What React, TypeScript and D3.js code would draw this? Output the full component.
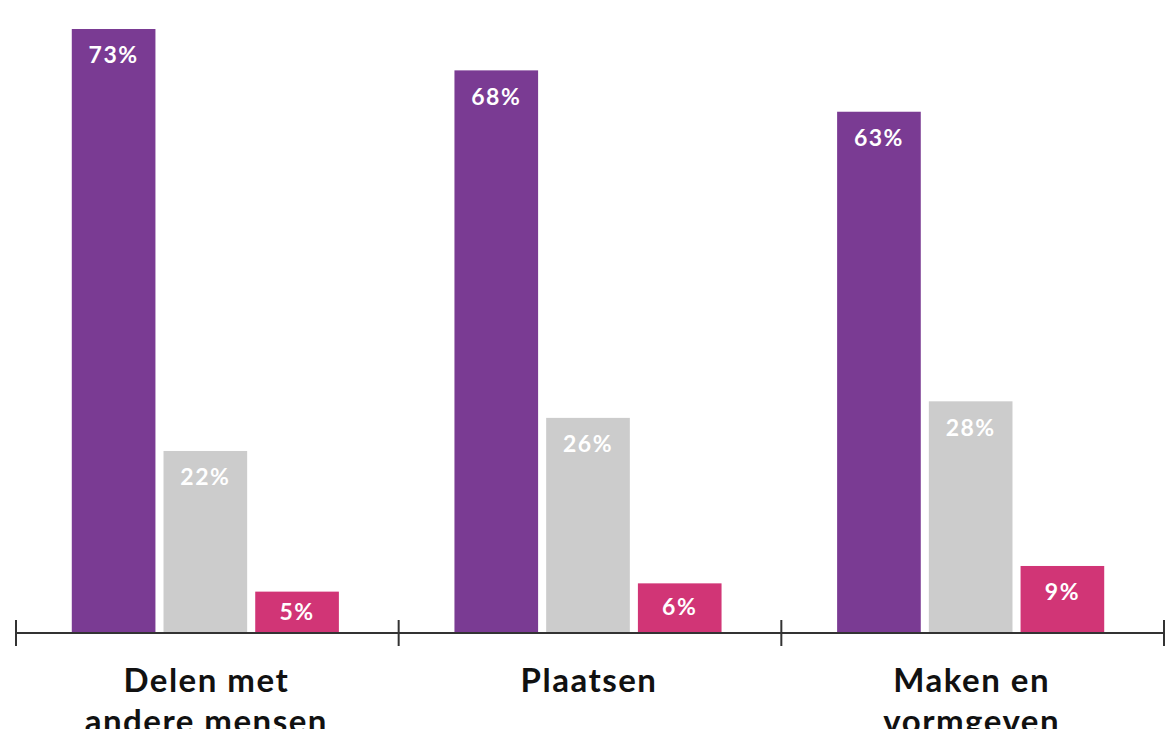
import React, { useEffect, useRef } from 'react';
import * as d3 from 'd3';

const categories = ['Delen met andere mensen', 'Plaatsen', 'Maken en vormgeven'];
const categoryLines = [['Delen met', 'andere mensen'], ['Plaatsen'], ['Maken en', 'vormgeven']];
const seriesKeys = ['a', 'b', 'c'];
// bar heights as drawn in the picture
const seriesA = [73, 68, 63];
const seriesB = [22, 26, 28];
const seriesC = [5, 6, 8.1];
// printed labels
const labelsA = ['73%', '68%', '63%'];
const labelsB = ['22%', '26%', '28%'];
const labelsC = ['5%', '6%', '9%'];
const colors = ['#7a3b93', '#cccccc', '#d13576'];

const W = 1166;
const H = 729;

export default function App() {
  const svgRef = useRef<SVGSVGElement>(null);

  useEffect(() => {
    if (!svgRef.current) return;
    const svg = d3.select(svgRef.current);
    svg.selectAll('*').remove();

    const margin = { left: 16, right: 2, bottom: 96, top: 29 };
    const baseY = H - margin.bottom;

    const x0 = d3.scaleBand<string>()
      .domain(categories)
      .range([margin.left, W - margin.right])
      .padding(0);

    const x1 = d3.scaleBand<string>()
      .domain(seriesKeys)
      .range([0, x0.bandwidth()])
      .paddingInner(0.088)
      .paddingOuter(0.63);

    const y = d3.scaleLinear().domain([0, 73]).range([baseY, margin.top]);

    const rows = categories.map((c, i) => ({
      cat: c,
      vals: [seriesA[i], seriesB[i], seriesC[i]],
      labs: [labelsA[i], labelsB[i], labelsC[i]],
    }));

    const groups = svg.selectAll('.grp')
      .data(rows)
      .enter().append('g')
      .attr('class', 'grp')
      .attr('transform', d => `translate(${x0(d.cat)! - 2},0)`);

    const bars = groups.selectAll('.bar')
      .data(d => d.vals.map((v, k) => ({ key: seriesKeys[k], v, k, lab: d.labs[k] })))
      .enter().append('g')
      .attr('class', 'bar');

    bars.append('rect')
      .attr('x', d => x1(d.key)!)
      .attr('y', d => y(d.v))
      .attr('width', x1.bandwidth())
      .attr('height', d => baseY - y(d.v))
      .attr('fill', d => colors[d.k]);

    bars.append('text')
      .attr('x', d => x1(d.key)! + x1.bandwidth() / 2)
      .attr('y', d => Math.min(y(d.v) + 26, (y(d.v) + baseY) / 2 - 1))
      .attr('dy', '0.36em')
      .attr('text-anchor', 'middle')
      .attr('fill', '#ffffff')
      .attr('font-family', 'Lato, sans-serif')
      .attr('font-weight', 700)
      .attr('font-size', 23)
      .attr('letter-spacing', 1.5)
      .text(d => d.lab);

    // Axis
    const axis = svg.append('g').attr('transform', `translate(0,${baseY})`);
    axis.append('line')
      .attr('x1', margin.left)
      .attr('x2', W - margin.right)
      .attr('stroke', '#333')
      .attr('stroke-width', 2);

    const tickXs = categories.map(c => x0(c)!).concat([x0.range()[1]]);
    axis.selectAll('.tick')
      .data(tickXs)
      .enter().append('line')
      .attr('x1', d => d)
      .attr('x2', d => d)
      .attr('y1', -13)
      .attr('y2', 13)
      .attr('stroke', '#333')
      .attr('stroke-width', 2);

    // Category labels
    const labels = svg.selectAll('.cat')
      .data(categoryLines)
      .enter().append('text')
      .attr('class', 'cat')
      .attr('text-anchor', 'middle')
      .attr('font-family', 'Lato, sans-serif')
      .attr('font-weight', 700)
      .attr('font-size', 33)
      .attr('letter-spacing', 1.5)
      .attr('fill', '#111');

    labels.selectAll('tspan')
      .data((d, i) => d.map(line => ({ line, i })))
      .enter().append('tspan')
      .attr('x', d => x0(categories[d.i])! + x0.bandwidth() / 2 - 1)
      .attr('y', (d, j) => baseY + 59 + j * 41)
      .text(d => d.line);
  }, []);

  return (
    <svg
      ref={svgRef}
      width={W}
      height={H}
      style={{ position: 'absolute', left: 0, top: 0, background: '#fff' }}
    />
  );
}
